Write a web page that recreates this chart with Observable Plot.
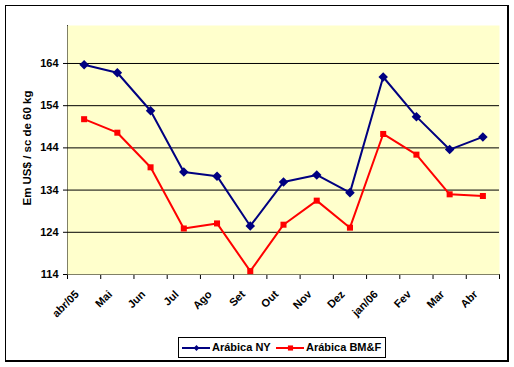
<!DOCTYPE html>
<html><head><meta charset="utf-8">
<script src="https://cdn.jsdelivr.net/npm/d3@7"></script>
<script src="https://cdn.jsdelivr.net/npm/@observablehq/plot@0.6"></script>
<style>
body{margin:0;background:#fff;font-family:"Liberation Sans",Arial,sans-serif;}
#wrap{position:relative;width:514px;height:367px;overflow:hidden;}
#border{position:absolute;left:5px;top:5px;width:504px;height:357px;box-sizing:border-box;border:1px solid #000;border-right-width:2px;border-bottom-width:2px;}
#chart{position:absolute;left:0;top:0;}
#ytitle{position:absolute;left:27px;top:148px;transform:translate(-50%,-50%) rotate(-90deg);white-space:nowrap;font-weight:bold;font-size:11.5px;color:#000;}
#legend{position:absolute;left:178px;top:337px;width:208px;height:21px;box-sizing:border-box;border:1px solid #000;background:#fff;}
.lgtext{position:absolute;top:0;line-height:19px;font-weight:bold;font-size:11px;color:#000;white-space:nowrap;}
.sw{position:absolute;top:0;}
</style>
</head><body>
<div id="wrap">
<div id="border"></div>
<div id="chart"></div>
<div id="ytitle">Em US$ / sc de 60 kg</div>
<div id="legend"></div>
</div>
<script>
const months = ["abr/05","Mai","Jun","Jul","Ago","Set","Out","Nov","Dez","jan/06","Fev","Mar","Abr"];
const arabicaNY = [163.7,161.8,152.8,138.3,137.3,125.5,135.9,137.6,133.4,160.8,151.4,143.6,146.6];
const arabicaBMF = [150.8,147.6,139.4,124.9,126.1,114.8,125.8,131.5,125.1,147.3,142.4,133.0,132.6];
const yTicks = [114,124,134,144,154,164];
const seriesNames = ["Arábica NY","Arábica BM&F"];
const colors = ["#000080","#FF0000"];

const xBoundaries = d3.range(months.length + 1).map(i => i - 0.5);

const chart = Plot.plot({
  width: 514,
  height: 330,
  marginLeft: 67,
  marginRight: 15,
  marginTop: 25,
  marginBottom: 56,
  style: {fontFamily: '"Liberation Sans", Arial, sans-serif', fontSize: "11px", fontWeight: "bold", color: "#000", background: "transparent"},
  x: {domain: [-0.5, months.length - 0.5], ticks: xBoundaries, tickFormat: () => "", tickSize: 5, line: true, label: null},
  y: {domain: [114, 173], ticks: yTicks, tickSize: 4, tickPadding: 5, line: true, label: null},
  marks: [
    Plot.frame({fill: "#FFFFCC", stroke: null}),
    Plot.ruleY(yTicks.slice(1), {stroke: "#000", strokeWidth: 1}),
    Plot.line(arabicaNY, {x: (d, i) => i, y: d => d, stroke: colors[0], strokeWidth: 2}),
    Plot.dot(arabicaNY, {x: (d, i) => i, y: d => d, symbol: "diamond2", r: 4.3, fill: colors[0], stroke: "none"}),
    Plot.line(arabicaBMF, {x: (d, i) => i, y: d => d, stroke: colors[1], strokeWidth: 2}),
    Plot.dot(arabicaBMF, {x: (d, i) => i, y: d => d, symbol: "square", r: 3.4, fill: colors[1], stroke: "none"}),
    Plot.text(months, {x: (d, i) => i, y: () => 114, text: d => d, rotate: -45, textAnchor: "end", dx: -7, dy: 18, fill: "#000"})
  ]
});
document.getElementById("chart").appendChild(chart);

// legend
const lg = document.getElementById("legend");
const items = [
  {sw: 3, tx: 33, sym: "diamond2", r: 2.6},
  {sw: 97, tx: 127, sym: "square", r: 2.9}
];
items.forEach((it, k) => {
  const s = Plot.plot({
    width: 28, height: 19, margin: 0,
    x: {domain: [0, 1], axis: null}, y: {domain: [0, 1], axis: null},
    style: {background: "transparent"},
    marks: [
      Plot.ruleY([0.5], {stroke: colors[k], strokeWidth: 2}),
      Plot.dot([0.5], {x: d => d, y: d => d, symbol: it.sym, r: it.r, fill: colors[k], stroke: "none"})
    ]
  });
  s.classList.add("sw");
  s.style.left = it.sw + "px";
  lg.appendChild(s);
  const t = document.createElement("div");
  t.className = "lgtext";
  t.style.left = it.tx + "px";
  t.textContent = seriesNames[k];
  lg.appendChild(t);
});
</script>
</body></html>
